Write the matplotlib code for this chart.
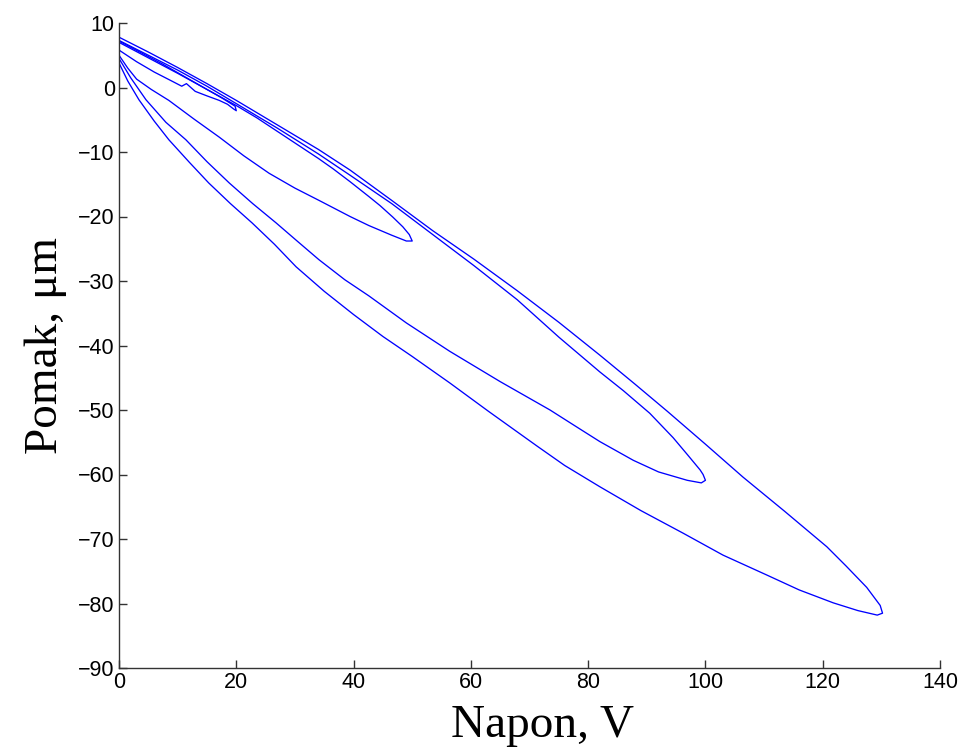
import matplotlib
matplotlib.use('Agg')
import matplotlib.pyplot as plt

# Hysteresis loops (voltage V, displacement um)
# each loop: rising branch out to the peak voltage, then the return branch
v20 = [0, 3, 6, 9, 10.7, 11.5, 13, 15, 17.1, 18.5, 19.5, 20,
       19.8, 17.5, 15, 12.5, 10, 7.5, 5, 2.5, 0]
d20 = [5.8, 4.0, 2.4, 1.0, 0.2, 0.6, -0.6, -1.3, -2.0, -2.6, -3.3, -3.6,
       -2.9, -1.6, -0.3, 1.0, 2.3, 3.6, 4.8, 6.0, 7.2]

v50 = [0, 1.5, 3, 5.5, 8.5, 12.8, 17.1, 21.3, 25.6, 30, 34.1, 39.4, 42.6, 46.5, 49, 50,
       49.5, 48.4, 46.7, 44.5, 42.6, 39.4, 36.5, 34, 30.5, 27, 23.5, 20, 15, 10, 5, 0]
d50 = [5.0, 3.0, 1.3, -0.3, -2.0, -4.9, -7.7, -10.6, -13.3, -15.6, -17.5, -20.0, -21.4, -22.9, -23.8, -23.8,
       -22.8, -21.6, -20.1, -18.3, -16.9, -14.6, -12.6, -11.0, -8.9, -6.8, -4.7, -2.8, -0.3, 2.2, 4.6, 7.0]

v100 = [0, 2, 4.6, 8, 11.4, 15, 18.8, 22.8, 26.8, 30.5, 34.1, 38.5, 42.6, 49, 56.4, 65, 73.5, 78, 82,
        87.7, 92, 96.9, 99.3, 100,
        99.6, 99.1, 97, 94.5, 90.5, 86, 82, 75, 67.9, 60.5, 53.5, 46.5, 39.4, 34, 27, 20, 15, 10, 5, 0]
d100 = [4.5, 1.5, -1.9, -5.4, -8.1, -11.5, -14.8, -18.0, -21.0, -23.9, -26.7, -29.8, -32.3, -36.5, -40.9, -45.6,
        -50.0, -52.6, -54.9, -57.8, -59.6, -60.9, -61.3, -60.9,
        -60.0, -59.3, -57.0, -54.3, -50.5, -47.0, -44.1, -38.7, -32.9, -27.6, -22.8, -18.0, -13.6, -10.3, -6.3,
        -2.5, 0.2, 2.7, 5.0, 7.3]

v130 = [0, 1.5, 3.4, 6, 8.5, 12, 15.3, 19, 22.7, 26.5, 30.2, 35, 40, 45, 50, 56.4, 63, 71.3, 76, 82,
        89, 96.2, 103, 110.5, 116, 121.8, 126, 129.3, 130.2,
        129.8, 127.5, 124, 120.7, 113.5, 106.4, 100, 93.5, 88, 82, 75, 67.9, 60.5, 53.5, 46.5, 39.4, 34, 27,
        20, 15, 10, 5, 0]
d130 = [3.8, 1.0, -1.9, -5.2, -8.1, -11.6, -14.8, -18.0, -21.0, -24.3, -27.8, -31.6, -35.2, -38.6, -41.7,
        -45.8, -50.2, -55.6, -58.6, -61.9, -65.6, -69.1, -72.5, -75.6, -77.9, -79.9, -81.1, -81.8, -81.5,
        -80.3, -77.5, -74.2, -71.2, -65.7, -60.4, -55.3, -50.2, -46.0, -41.5, -36.4, -31.5, -26.6, -22.2,
        -17.5, -12.8, -9.6, -5.8, -2.0, 0.6, 3.1, 5.5, 7.8]

loops = [(v20, d20), (v50, d50), (v100, d100), (v130, d130)]

fig = plt.figure(figsize=(9.66, 7.54), dpi=100)
ax = fig.add_axes([119 / 966, 1 - 668 / 754, (940 - 119) / 966, (668 - 23) / 754])

for v, d in loops:
    ax.plot(v, d, color='#0000ff', linewidth=0.95)

ax.set_xlim(0, 140)
ax.set_ylim(-90, 10)
ax.set_xticks(range(0, 141, 20))
ax.set_yticks(range(-90, 11, 10))

ax.spines['top'].set_visible(False)
ax.spines['right'].set_visible(False)
for s in ['left', 'bottom']:
    ax.spines[s].set_color('#333333')
    ax.spines[s].set_linewidth(1.0)

ax.tick_params(direction='in', length=6, width=1.0, color='#333333', pad=3,
               labelsize=15.5)
for lab in ax.get_xticklabels() + ax.get_yticklabels():
    lab.set_family(['Liberation Sans', 'DejaVu Sans'])

ax.set_xlabel('Napon, V', fontsize=34, family=['Liberation Serif', 'DejaVu Serif'])
ax.xaxis.set_label_coords(0.516, -0.057)
ax.set_ylabel('Pomak, μm', fontsize=34, family=['Liberation Serif', 'DejaVu Serif'], labelpad=8)

fig.savefig('out.png', dpi=100)
